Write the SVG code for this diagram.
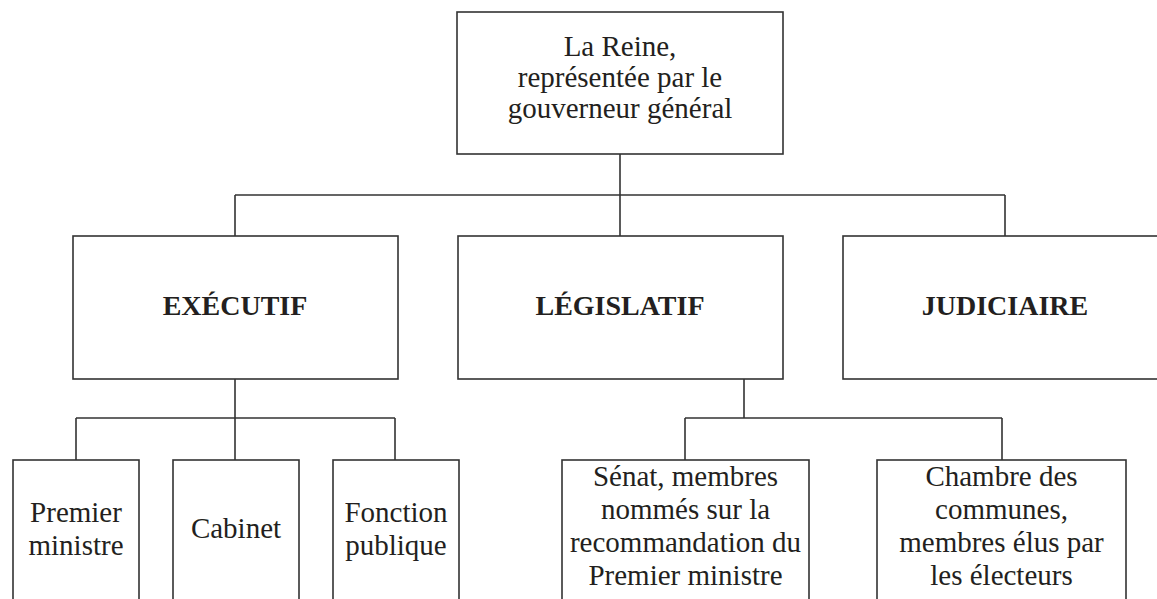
<svg xmlns="http://www.w3.org/2000/svg" width="1157" height="599" viewBox="0 0 1157 599">
<style>
.box{fill:#fff;stroke:#333;stroke-width:1.6}
.ln{fill:none;stroke:#333;stroke-width:1.6}
.t{font-family:"Liberation Serif","Times New Roman",serif;font-size:29px;fill:#231f20;text-anchor:middle}
.b{font-family:"Liberation Serif","Times New Roman",serif;font-size:28px;font-weight:bold;fill:#231f20;text-anchor:middle}
</style>
<rect width="1157" height="599" fill="#fff"/>
<g id="connectors">
<path class="ln" d="M620 154V195M235 195H1005M235 195V236M620 195V236M1005 195V236"/>
<path class="ln" d="M235 379V418M76 418H395M76 418V460M235 418V460M395 418V460"/>
<path class="ln" d="M744 379V418M685 418H1002M685 418V460M1002 418V460"/>
</g>
<g id="reine">
<rect class="box" x="457" y="12" width="326" height="142"/>
<text class="t" x="620" y="56">La Reine,</text>
<text class="t" x="620" y="87">représentée par le</text>
<text class="t" x="620" y="118">gouverneur général</text>
</g>
<g id="executif">
<rect class="box" x="73" y="236" width="325" height="143"/>
<text class="b" x="235" y="315">EXÉCUTIF</text>
</g>
<g id="legislatif">
<rect class="box" x="458" y="236" width="325" height="143"/>
<text class="b" x="620" y="315">LÉGISLATIF</text>
</g>
<g id="judiciaire">
<rect class="box" x="843" y="236" width="325" height="143"/>
<text class="b" x="1005" y="315">JUDICIAIRE</text>
</g>
<g id="premier">
<rect class="box" x="13" y="460" width="126" height="160"/>
<text class="t" x="76" y="522">Premier</text>
<text class="t" x="76" y="555">ministre</text>
</g>
<g id="cabinet">
<rect class="box" x="173" y="460" width="126" height="160"/>
<text class="t" x="236" y="538">Cabinet</text>
</g>
<g id="fonction">
<rect class="box" x="333" y="460" width="126" height="160"/>
<text class="t" x="396" y="522">Fonction</text>
<text class="t" x="396" y="555">publique</text>
</g>
<g id="senat">
<rect class="box" x="562" y="460" width="247" height="160"/>
<text class="t" x="685.5" y="486">Sénat, membres</text>
<text class="t" x="685.5" y="519">nommés sur la</text>
<text class="t" x="685.5" y="552">recommandation du</text>
<text class="t" x="685.5" y="585">Premier ministre</text>
</g>
<g id="chambre">
<rect class="box" x="877" y="460" width="249" height="160"/>
<text class="t" x="1001.5" y="486">Chambre des</text>
<text class="t" x="1001.5" y="519">communes,</text>
<text class="t" x="1001.5" y="552">membres élus par</text>
<text class="t" x="1001.5" y="585">les électeurs</text>
</g>
</svg>
